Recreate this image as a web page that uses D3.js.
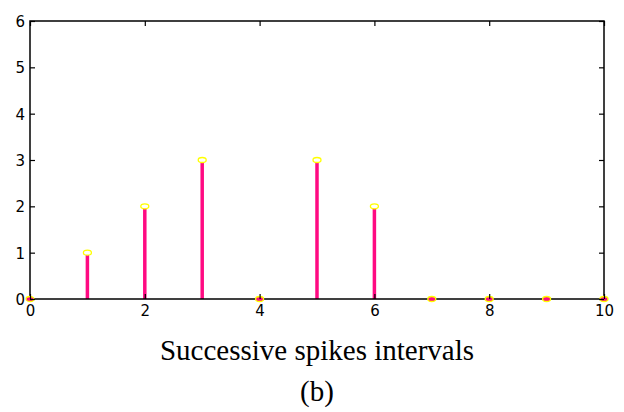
<!DOCTYPE html>
<html>
<head>
<meta charset="utf-8">
<script src="https://cdn.jsdelivr.net/npm/d3@7"></script>
<style>
  body { margin: 0; background: #fff; }
</style>
</head>
<body>
<div id="frame"></div>
<script>
// data
let intervals = [0, 1, 2, 3, 4, 5, 6, 7, 8, 9, 10];
let counts = [0, 1, 2, 3, 0, 3, 2, 0, 0, 0, 0];
let xTicks = [0, 2, 4, 6, 8, 10];
let yTicks = [0, 1, 2, 3, 4, 5, 6];

let margin = { top: 21, right: 20, bottom: 113, left: 30 },
    width = 624 - margin.left - margin.right,
    height = 412 - margin.top - margin.bottom;

let svg = d3.select('#frame')
    .append('svg')
    .attr('width', 624)
    .attr('height', 412);

let g = svg.append('g')
    .attr('transform', 'translate(' + margin.left + ',' + margin.top + ')');

let x = d3.scaleLinear().domain([0, 10]).range([0, width]);
let y = d3.scaleLinear().domain([0, 6]).range([height, 0]);

// stems
g.selectAll('line.stem')
    .data(intervals)
    .enter()
    .append('line')
    .attr('class', 'stem')
    .attr('x1', d => x(d))
    .attr('x2', d => x(d))
    .attr('y1', y(0))
    .attr('y2', (d, i) => y(counts[i]))
    .attr('stroke', '#ff0a82')
    .attr('stroke-width', 3.5);

// box
g.append('rect')
    .attr('width', width)
    .attr('height', height)
    .attr('fill', 'none')
    .attr('stroke', '#000')
    .attr('stroke-width', 1.5);

// markers
g.selectAll('ellipse')
    .data(intervals)
    .enter()
    .append('ellipse')
    .attr('cx', d => x(d))
    .attr('cy', (d, i) => y(counts[i]))
    .attr('rx', 4)
    .attr('ry', 2.5)
    .attr('fill', (d, i) => counts[i] == 0 ? '#ff0a82' : '#fff')
    .attr('stroke', '#ffff00')
    .attr('stroke-width', 1.3);

let tickFont = '"DejaVu Sans", Verdana, sans-serif';

// axes, ticks inside the box
let xb = g.append('g')
    .attr('transform', 'translate(0,' + height + ')')
    .call(d3.axisBottom(x).tickValues(xTicks).tickSize(-5).tickPadding(6).tickFormat(d3.format('d')));
let xt = g.append('g')
    .call(d3.axisTop(x).tickValues(xTicks).tickSize(-5).tickFormat(''));
let yl = g.append('g')
    .call(d3.axisLeft(y).tickValues(yTicks).tickSize(-5).tickPadding(5).tickFormat(d3.format('d')));
let yr = g.append('g')
    .attr('transform', 'translate(' + width + ',0)')
    .call(d3.axisRight(y).tickValues(yTicks).tickSize(-5).tickFormat(''));

[xb, xt, yl, yr].forEach(a => {
    a.select('.domain').remove();
    a.selectAll('line').attr('stroke', '#000').attr('stroke-width', 1.2);
    a.selectAll('text')
        .style('font-family', tickFont)
        .style('font-size', '15px')
        .attr('fill', '#000');
});
yl.selectAll('text').attr('dy', '0.36em');

// labels
svg.append('text')
    .attr('x', 317)
    .attr('y', 360)
    .attr('text-anchor', 'middle')
    .style('font-family', '"Liberation Serif", "Times New Roman", serif')
    .style('font-size', '29px')
    .text('Successive spikes intervals');

svg.append('text')
    .attr('x', 317)
    .attr('y', 401)
    .attr('text-anchor', 'middle')
    .style('font-family', '"Liberation Serif", "Times New Roman", serif')
    .style('font-size', '29px')
    .text('(b)');
</script>
</body>
</html>
